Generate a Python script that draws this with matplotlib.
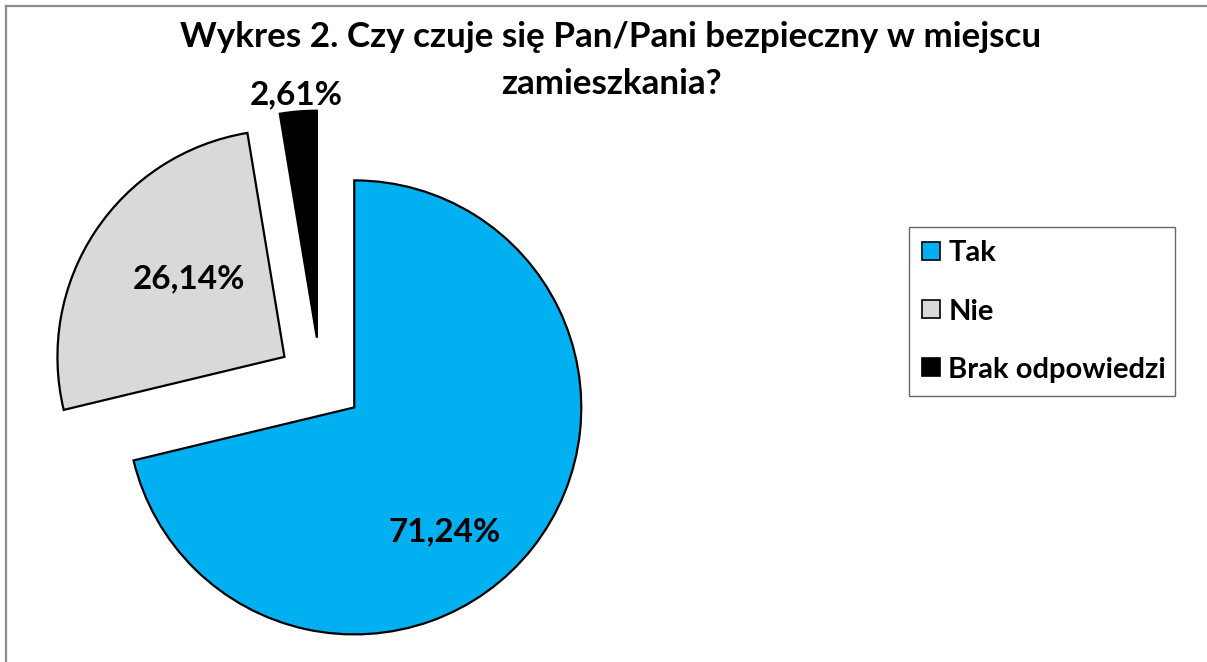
import matplotlib
matplotlib.use("Agg")
import matplotlib.pyplot as plt
from matplotlib.lines import Line2D

labels = ["Tak", "Nie", "Brak odpowiedzi"]
values = [71.24, 26.14, 2.61]
pct_text = ["71,24%", "26,14%", "2,61%"]
colors = ["#00B0F0", "#D9D9D9", "#000000"]

plt.rcParams["font.family"] = ["Lato", "DejaVu Sans"]

W, H = 1207, 662
fig = plt.figure(figsize=(W / 100, H / 100), dpi=100)
ax = fig.add_axes([0, 0, 1, 1])

# pie center / radius in pixels
cx, cy, R = 320.4, 380.7, 227.0

wedges, _ = ax.pie(
    values,
    colors=colors,
    startangle=90,
    counterclock=False,
    explode=[0.19, 0.19, 0.19],
    radius=1.0,
    wedgeprops=dict(edgecolor="black", linewidth=1.6),
)

ax.set_xlim(-cx / R, (W - cx) / R)
ax.set_ylim(-(H - cy) / R, cy / R)
ax.set_aspect("auto")
ax.axis("off")


def px(x, y):
    return (x - cx) / R, (cy - y) / R


# percentage labels
label_pos = [(445, 532), (189, 279), (296, 95)]
for t, (x, y) in zip(pct_text, label_pos):
    ax.text(*px(x, y), t, ha="center", va="center", fontsize=24, fontweight="bold")

# title
fig.text(611 / W, 1 - 37 / H, "Wykres 2. Czy czuje się Pan/Pani bezpieczny w miejscu",
         ha="center", va="center", fontsize=25.2, fontweight="bold")
fig.text(611 / W, 1 - 84 / H, "zamieszkania?",
         ha="center", va="center", fontsize=25.2, fontweight="bold")

# legend
handles = [Line2D([0], [0], marker="s", linestyle="none", markersize=12.5,
                  markerfacecolor=c, markeredgecolor="black", markeredgewidth=1.2)
           for c in colors]
leg = fig.legend(handles, labels, loc="center left",
                 bbox_to_anchor=(909 / W, 1 - 395 / H, 266 / W, 167 / H), mode="expand",
                 prop=dict(size=21, weight="bold"), frameon=True, fancybox=False,
                 edgecolor="#404040", handlelength=0.6, handletextpad=0.3,
                 labelspacing=1.1, borderpad=0.45, borderaxespad=0)
leg.get_frame().set_linewidth(1.0)

# outer chart border (top and left visible)
fig.add_artist(Line2D([6 / W, 6 / W], [0, 1 - 6 / H], color="#8c8c8c", linewidth=1.6))
fig.add_artist(Line2D([6 / W, 1], [1 - 6 / H, 1 - 6 / H], color="#8c8c8c", linewidth=1.6))

fig.savefig("out.png", dpi=100)
